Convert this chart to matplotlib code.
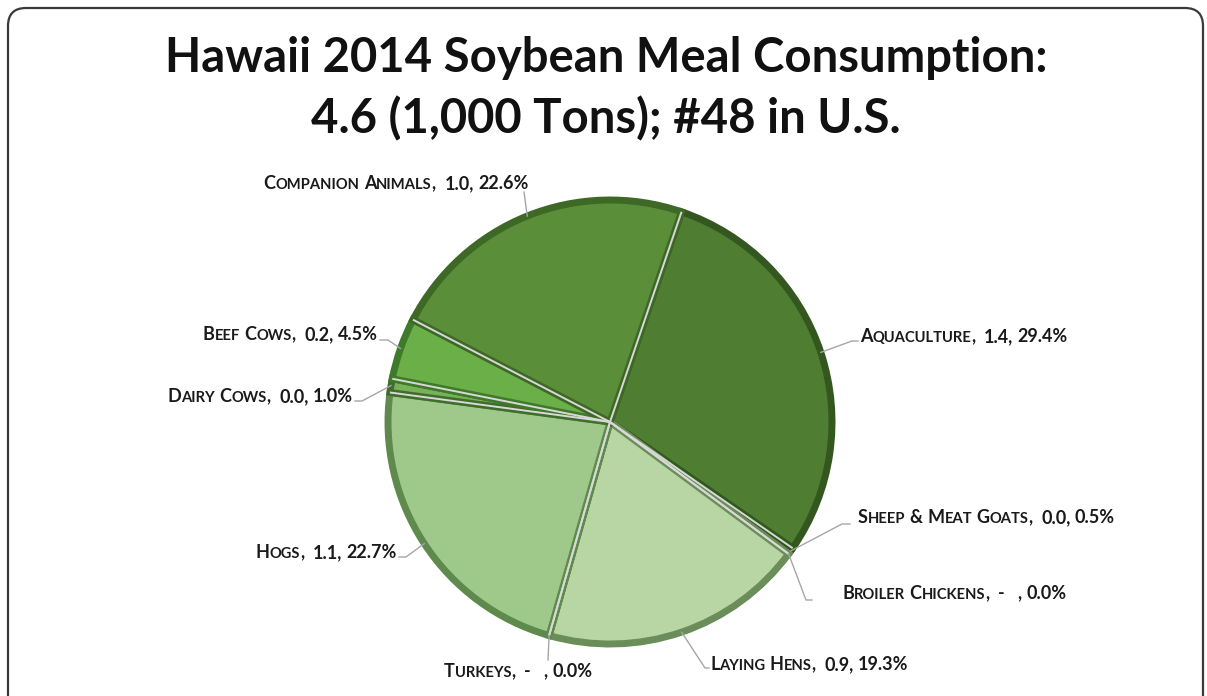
import matplotlib.pyplot as plt
from matplotlib.patches import FancyBboxPatch
import numpy as np

# Hawaii soybean meal use by animal group, clockwise from the top
categories = ['Aquaculture', 'Sheep & Meat Goats', 'Broiler Chickens', 'Laying Hens',
              'Turkeys', 'Hogs', 'Dairy Cows', 'Beef Cows', 'Companion Animals']
tons_k = ['1.4', '0.0', '-', '0.9', '-', '1.1', '0.0', '0.2', '1.0']
shares = [29.4, 0.5, 0.0, 19.3, 0.0, 22.7, 1.0, 4.5, 22.6]

face_colors = ['#4f7d31', '#426f29', '#7fa36b', '#b8d6a4', '#a7c893',
               '#9fc98a', '#79b05a', '#6baf48', '#5b8e38']
edge_colors = ['#33571e', '#2f5a1c', '#5f7f4d', '#6b8d59', '#5e8a4c',
               '#5f8a4d', '#3f6d2a', '#3e7a2a', '#3d6825']

# label placement: text x, baseline y, alignment, leader end, leader elbow
label_pos = [
    (860, 342, 'left', (858, 341), (852, 341)),
    (858, 523, 'left', (850, 524), (842, 524)),
    (842, 599, 'left', (812, 600), (806, 600)),
    (710, 670, 'left', (709, 668), (705, 668)),
    (518, 677, 'center', (548, 660), (548, 660)),
    (397, 558, 'right', (399, 557), (406, 557)),
    (353, 402, 'right', (355, 401), (362, 401)),
    (378, 340, 'right', (380, 340), (388, 340)),
    (396, 189, 'center', (524, 192), (524, 192)),
]

W, H = 1207, 696
fig = plt.figure(figsize=(W / 100, H / 100), dpi=100)
ax = fig.add_axes([0, 0, 1, 1])

cx, cy, r = 610, 422, 222
start = -90 + 18.8
wedges, _ = ax.pie(shares, colors=face_colors, startangle=start, counterclock=True,
                   center=(cx, cy), radius=r,
                   wedgeprops=dict(linewidth=5, joinstyle='miter'))
for w, ec in zip(wedges, edge_colors):
    w.set_edgecolor(ec)

# light separators between slices
bounds = np.cumsum([0] + shares) / 100 * 360 + start
for b in bounds[:-1]:
    a = np.deg2rad(b)
    ax.plot([cx, cx + r * np.cos(a)], [cy, cy + r * np.sin(a)],
            color='#d8d8d8', lw=1.4, solid_capstyle='butt', zorder=3)

ax.set_xlim(0, W)
ax.set_ylim(H, 0)
ax.set_aspect('equal')
ax.axis('off')

frame = FancyBboxPatch((8, 8), 1195, 720, boxstyle='round,pad=0,rounding_size=18',
                       fill=False, edgecolor='#3a3a3a', lw=1.6, clip_on=True)
ax.add_patch(frame)

fam = 'Lato'
ax.text(606, 72, 'Hawaii 2014 Soybean Meal Consumption:', ha='center', va='baseline',
        fontsize=34, fontweight='bold', family=fam, color='#111111')
ax.text(606, 133, '4.6 (1,000 Tons); #48 in U.S.', ha='center', va='baseline',
        fontsize=34, fontweight='bold', family=fam, color='#111111')

renderer = fig.canvas.get_renderer()


def advance(txt, size):
    kw = dict(fontsize=size, fontweight='bold', family=fam)
    t1 = ax.text(0, 0, '|' + txt + '|', **kw)
    t2 = ax.text(0, 0, '||', **kw)
    w = t1.get_window_extent(renderer).width - t2.get_window_extent(renderer).width
    t1.remove()
    t2.remove()
    return w


def small_caps(x, y, s, size, ha):
    runs = []
    for ch in s:
        kind = 'space' if ch == ' ' else ('small' if ch.islower() else 'big')
        if runs and runs[-1][1] == kind:
            runs[-1][0] += ch.upper()
        else:
            runs.append([ch.upper(), kind])
    sizes = [size * 0.82 if k == 'small' else size for _, k in runs]
    widths = [advance(t, sz) for (t, _), sz in zip(runs, sizes)]
    total = sum(widths)
    if ha == 'right':
        x0 = x - total
    elif ha == 'center':
        x0 = x - total / 2
    else:
        x0 = x
    for (t, k), sz, w in zip(runs, sizes, widths):
        if k != 'space':
            ax.text(x0, y, t, fontsize=sz, fontweight='bold', family=fam,
                    color='#1a1a1a', ha='left', va='baseline')
        x0 += w


for w, name, val, pct, pos in zip(wedges, categories, tons_k, shares, label_pos):
    tx, ty, ha, end, elbow = pos
    mid = np.deg2rad((w.theta1 + w.theta2) / 2)
    px, py = cx + r * np.cos(mid), cy + r * np.sin(mid)
    ax.plot([px, elbow[0], end[0]], [py, elbow[1], end[1]], color='#a6a6a6', lw=1, zorder=4)
    if val == '-':
        text = f'{name},  -   , {pct:.1f}%'
    else:
        text = f'{name},  {val}, {pct:.1f}%'
    small_caps(tx, ty, text, 13, ha)

fig.savefig('out.png', dpi=100)
